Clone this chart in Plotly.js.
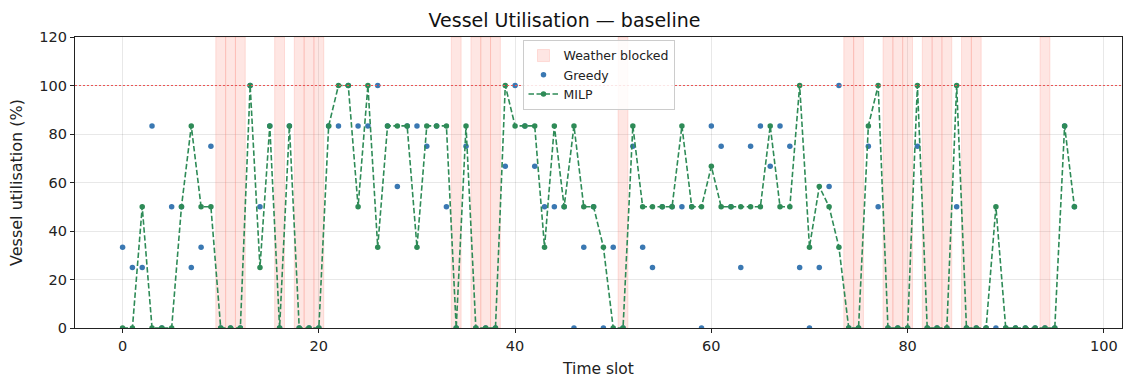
<!DOCTYPE html>
<html>
<head>
<meta charset="utf-8">
<script src="https://cdn.plot.ly/plotly-3.0.1.min.js"></script>
<style>
  html, body { margin: 0; padding: 0; background: #fff; }
  #chart { width: 1129px; height: 378px; }
</style>
</head>
<body>
<div id="chart"></div>
<script>
// Time slots of the planning horizon
const timeSlots = [
  0,1,2,3,4,5,6,7,8,9,10,11,12,13,14,15,16,17,18,19,
  20,21,22,23,24,25,26,27,28,29,30,31,32,33,34,35,36,37,38,39,
  40,41,42,43,44,45,46,47,48,49,50,51,52,53,54,55,56,57,58,59,
  60,61,62,63,64,65,66,67,68,69,70,71,72,73,74,75,76,77,78,79,
  80,81,82,83,84,85,86,87,88,89,90,91,92,93,94,95,96,97
];

// Vessel utilisation (%) per slot, greedy heuristic
const greedyUtil = [
  33.33,25,25,83.33,0,50,50,25,33.33,75,
  0,0,0,100,50,83.33,0,83.33,0,0,
  0,83.33,83.33,100,83.33,83.33,100,83.33,58.33,83.33,
  83.33,75,83.33,50,0,75,0,0,0,66.67,
  100,83.33,66.67,50,50,50,0,33.33,50,0,
  33.33,0,75,33.33,25,50,50,50,50,0,
  83.33,75,50,25,75,83.33,66.67,83.33,75,25,
  0,25,58.33,100,0,0,75,50,0,0,
  0,75,0,0,0,50,0,0,0,0,
  0,0,0,0,0,0,83.33,50
];

// Vessel utilisation (%) per slot, MILP schedule
const milpUtil = [
  0,0,50,0,0,0,50,83.33,50,50,
  0,0,0,100,25,83.33,0,83.33,0,0,
  0,83.33,100,100,50,100,33.33,83.33,83.33,83.33,
  33.33,83.33,83.33,83.33,0,83.33,0,0,0,100,
  83.33,83.33,83.33,33.33,83.33,50,83.33,50,50,33.33,
  0,0,83.33,50,50,50,50,83.33,50,50,
  66.67,50,50,50,50,50,83.33,50,50,100,
  33.33,58.33,50,33.33,0,0,83.33,100,0,0,
  0,100,0,0,0,100,0,0,0,50,
  0,0,0,0,0,0,83.33,50
];

// Slots in which sailing is blocked by weather
const blockedSlots = [10,11,12,16,18,19,20,34,36,37,38,51,74,75,78,79,80,82,83,84,86,87,94];

// Axis limits and capacity reference
const yMax = 120;
const capacityLine = 100;
const xRange = [-4.85, 101.85];

const FONT = 'DejaVu Sans, sans-serif';

const blockedTrace = {
  type: 'bar',
  name: 'Weather blocked',
  x: blockedSlots,
  y: blockedSlots.map(() => yMax),
  width: 1,
  marker: {
    color: 'rgba(250,128,114,0.2)',
    line: { color: 'rgba(250,128,114,0.22)', width: 1 }
  },
  hoverinfo: 'skip'
};

const greedyTrace = {
  type: 'scatter',
  mode: 'markers',
  name: 'Greedy',
  x: timeSlots,
  y: greedyUtil,
  marker: { color: '#3a78b2', size: 5.5 }
};

const milpTrace = {
  type: 'scatter',
  mode: 'lines+markers',
  name: 'MILP',
  x: timeSlots,
  y: milpUtil,
  line: { color: '#2e8b57', width: 1.6, dash: '5.5px,2.5px' },
  marker: { color: '#2e8b57', size: 5.5 }
};

const layout = {
  width: 1129,
  height: 378,
  margin: { l: 75, r: 7, t: 37, b: 50 },
  paper_bgcolor: '#ffffff',
  plot_bgcolor: '#ffffff',
  font: { family: FONT, size: 14, color: '#222' },
  title: {
    text: 'Vessel Utilisation — baseline',
    font: { family: FONT, size: 19, color: '#111' },
    x: 0.5, xanchor: 'center', y: 0.945, yanchor: 'middle'
  },
  showlegend: true,
  bargap: 0,
  xaxis: {
    title: { text: 'Time slot', font: { family: FONT, size: 15.5 }, standoff: 10 },
    range: xRange,
    tickmode: 'array',
    tickvals: [0, 20, 40, 60, 80, 100],
    ticks: 'outside', ticklen: 4, tickwidth: 1, tickcolor: '#222',
    tickfont: { family: FONT, size: 14.5 },
    showgrid: true, gridcolor: 'rgba(0,0,0,0.09)', gridwidth: 1,
    zeroline: false,
    showline: true, linecolor: '#222', linewidth: 1.2, mirror: true
  },
  yaxis: {
    title: { text: 'Vessel utilisation (%)', font: { family: FONT, size: 16 }, standoff: 12 },
    range: [0, yMax],
    tickmode: 'array',
    tickvals: [0, 20, 40, 60, 80, 100, 120],
    ticks: 'outside', ticklen: 4, tickwidth: 1, tickcolor: '#222',
    tickfont: { family: FONT, size: 14.5 },
    showgrid: true, gridcolor: 'rgba(0,0,0,0.09)', gridwidth: 1,
    zeroline: false,
    showline: true, linecolor: '#222', linewidth: 1.2, mirror: true
  },
  shapes: [{
    type: 'line', xref: 'paper', x0: 0, x1: 1,
    yref: 'y', y0: capacityLine, y1: capacityLine,
    line: { color: 'rgb(235,85,85)', width: 1.2, dash: '2px,2px' },
    layer: 'above'
  }],
  legend: {
    x: 0.5, xanchor: 'center', y: 0.99, yanchor: 'top',
    bgcolor: 'rgba(255,255,255,0.85)',
    bordercolor: '#cccccc', borderwidth: 1,
    font: { family: FONT, size: 12.5, color: '#222' },
    tracegroupgap: 0,
    itemwidth: 30
  }
};

Plotly.newPlot('chart', [blockedTrace, greedyTrace, milpTrace], layout, { displayModeBar: false, staticPlot: true });
</script>
</body>
</html>
